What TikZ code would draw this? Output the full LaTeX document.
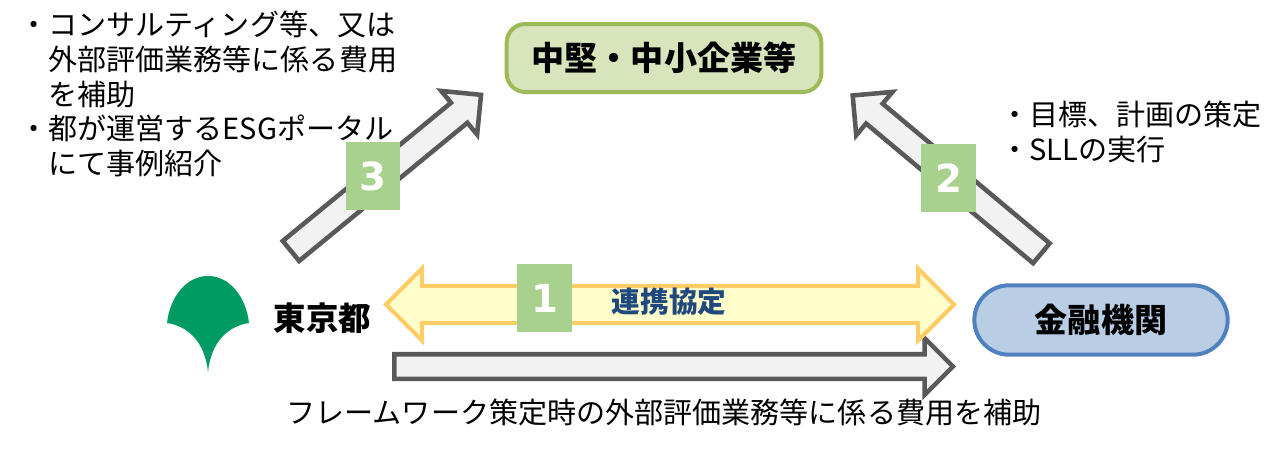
\documentclass[tikz,border=0pt]{standalone}
\usepackage{fontspec}
\setmainfont{Noto Sans CJK JP}
\newfontfamily\digitfont{DejaVu Sans}
\usetikzlibrary{shapes.arrows}
\definecolor{arrowgray}{HTML}{595959}
\definecolor{arrowfill}{HTML}{F2F2F2}
\definecolor{stepgreen}{HTML}{A9D18E}
\definecolor{tokyogreen}{HTML}{009A63}
\definecolor{linkdraw}{HTML}{FFCC66}
\definecolor{linkfill}{HTML}{FFFFCC}
\definecolor{labelblue}{HTML}{1F497D}
\definecolor{smedraw}{HTML}{9BBB59}
\definecolor{smefill}{HTML}{D8E4BC}
\definecolor{bankdraw}{HTML}{4F81BD}
\definecolor{bankfill}{HTML}{B9CDE5}
\tikzset{
  grayarrow/.style={
    single arrow,
    draw=arrowgray,
    fill=arrowfill,
    line width=3.4pt,
    inner xsep=0pt,
    outer sep=0pt,
    single arrow tip angle=90,
    single arrow head indent=0pt
  },
  linkarrow/.style={
    double arrow,
    draw=linkdraw,
    fill=linkfill,
    line width=3pt,
    inner xsep=0pt,
    inner ysep=12.4pt,
    outer sep=0pt,
    double arrow tip angle=90,
    double arrow head indent=0pt,
    double arrow head extend=13pt,
    minimum height=426pt
  },
  stepbox/.style={
    rectangle,
    fill=stepgreen,
    text=white,
    inner sep=0pt,
    minimum width=41pt,
    minimum height=51pt,
    font=\digitfont\bfseries\fontsize{29}{29}\selectfont
  },
  body/.style={
    align=left,
    inner sep=0pt,
    font=\fontsize{21.8}{26}\selectfont
  },
  title/.style={
    align=center,
    inner sep=0pt,
    font=\bfseries\fontsize{24.8}{28}\selectfont
  }
}

\begin{document}
\begin{tikzpicture}[x=0.75pt,y=-0.75pt]
  \useasboundingbox (0,0) rectangle (1285,451);

  \node[title, rectangle, rounded corners=14pt, draw=smedraw, fill=smefill, line width=3pt, minimum width=236pt, minimum height=51pt] (sme) at (664,58) {\raisebox{2pt}{中堅・中小企業等}};
  \node[title, rectangle, rounded corners=26pt, draw=bankdraw, fill=bankfill, line width=3pt, minimum width=190pt, minimum height=52pt] (bank) at (1101,320) {\raisebox{2pt}{金融機関}};

  \fill[tokyogreen] (167,323) .. controls (170,296) and (187,276) .. (208,276) .. controls (229,276) and (246,296) .. (249,323) .. controls (228,326) and (211,342) .. (208,372) .. controls (205,342) and (188,326) .. (167,323) -- cycle;
  \node[title, font=\bfseries\fontsize{24.3}{28}\selectfont] (tokyo) at (322.5,318) {東京都};

  \node[grayarrow, inner ysep=8pt, single arrow head extend=11.5pt, minimum height=184.5pt, rotate=39.4] (toSme) at (381,177) {};
  \node[grayarrow, inner ysep=8pt, single arrow head extend=11.5pt, minimum height=184.5pt, rotate=140.1] (fromBank) at (952,178.5) {};
  \node[grayarrow, inner ysep=7.5pt, single arrow head extend=12pt, minimum height=419pt] (subsidy) at (667.5,366.5) {};
  \node[linkarrow] (agreement) at (670,304.5) {};

  \node[stepbox] (stepThree) at (373,176) {3};
  \node[stepbox] (stepTwo) at (948.5,178) {2};
  \node[stepbox] (stepOne) at (544.5,298) {1};

  \node[body, anchor=center, text=labelblue, font=\bfseries\fontsize{21.5}{26}\selectfont] (agreementLabel) at (669,302) {連携協定};
  \node[body, anchor=west] (supportText) at (19,94) {・コンサルティング等、又は\\\phantom{・}外部評価業務等に係る費用\\\phantom{・}を補助\\・都が運営するESGポータル\\\phantom{・}にて事例紹介};
  \node[body, anchor=west] (bankText) at (1000,132) {・目標、計画の策定\\・SLLの実行};
  \node[body, anchor=center] (subsidyText) at (664,412) {フレームワーク策定時の外部評価業務等に係る費用を補助};
\end{tikzpicture}
\end{document}
